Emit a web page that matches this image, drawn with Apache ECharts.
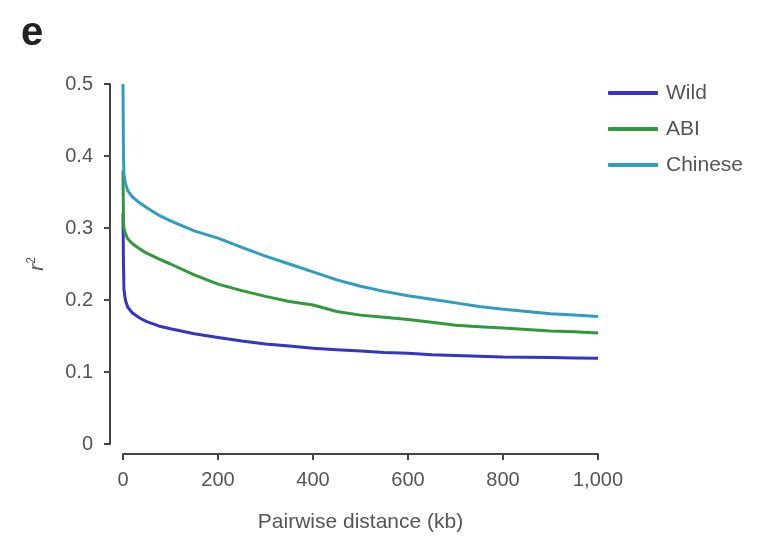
<!DOCTYPE html>
<html>
<head>
<meta charset="utf-8">
<script src="https://cdn.jsdelivr.net/npm/echarts@6/dist/echarts.min.js"></script>
<style>
  html, body { margin: 0; padding: 0; background: #fff; }
  #chart { width: 764px; height: 537px; }
</style>
</head>
<body>
<div id="chart"></div>
<script>
// Linkage disequilibrium decay: r^2 against pairwise distance (kb)
const distanceKb = [0, 1, 2, 5, 10, 20, 35, 50, 75, 100, 150, 200, 250, 300, 350, 400,
  450, 500, 550, 600, 650, 700, 750, 800, 850, 900, 950, 1000];

const wild = [0.32, 0.25, 0.215, 0.2, 0.19, 0.182, 0.175, 0.17, 0.164, 0.16, 0.153, 0.148,
  0.143, 0.139, 0.136, 0.133, 0.131, 0.129, 0.127, 0.126, 0.124, 0.123, 0.122, 0.121,
  0.1205, 0.12, 0.1195, 0.119];

const abi = [0.38, 0.31, 0.30, 0.292, 0.285, 0.278, 0.271, 0.265, 0.257, 0.25, 0.235, 0.222,
  0.213, 0.205, 0.198, 0.193, 0.184, 0.179, 0.176, 0.173, 0.169, 0.165, 0.163, 0.161,
  0.159, 0.157, 0.156, 0.154];

const chinese = [0.50, 0.40, 0.375, 0.362, 0.352, 0.343, 0.335, 0.328, 0.318, 0.31, 0.296,
  0.286, 0.273, 0.261, 0.25, 0.239, 0.228, 0.219, 0.212, 0.206, 0.201, 0.196, 0.191,
  0.187, 0.184, 0.181, 0.179, 0.177];

const seriesNames = ['Wild', 'ABI', 'Chinese'];
const seriesColors = ['#3434c8', '#2f9a3c', '#2e9dbf'];
const xTicks = [0, 200, 400, 600, 800, 1000];

const toPairs = vals => distanceKb.map((d, i) => [d, vals[i]]);
const textColor = '#555';
const axisColor = '#444';
const font = 'Liberation Sans, Arial, sans-serif';

const chart = echarts.init(document.getElementById('chart'), null, { renderer: 'canvas' });

chart.setOption({
  animation: false,
  backgroundColor: '#fff',
  textStyle: { fontFamily: font },
  graphic: [{
    type: 'text',
    left: 21,
    top: 14,
    style: { text: 'e', font: 'bold 40px ' + font, fill: '#222' }
  }],
  legend: {
    orient: 'vertical',
    left: 603,
    top: 76,
    itemWidth: 50,
    itemHeight: 4,
    itemGap: 12,
    icon: 'roundRect',
    data: seriesNames,
    textStyle: { fontSize: 21, color: textColor, lineHeight: 24, padding: [0, 0, 0, 3] }
  },
  grid: { left: 123, right: 166, top: 84, bottom: 93, outerBoundsMode: 'none' },
  xAxis: {
    type: 'value',
    min: 0,
    max: 1000,
    interval: 200,
    offset: 10,
    name: 'Pairwise distance (kb)',
    nameLocation: 'middle',
    nameGap: 58,
    nameTextStyle: { fontSize: 21, color: textColor },
    splitLine: { show: false },
    axisLine: { show: true, onZero: false, lineStyle: { color: axisColor, width: 2 } },
    axisTick: { show: true, length: 6, lineStyle: { color: axisColor, width: 2 } },
    axisLabel: {
      fontSize: 20,
      color: textColor,
      margin: 16,
      customValues: xTicks,
      formatter: v => v.toLocaleString('en-US')
    }
  },
  yAxis: {
    type: 'value',
    min: 0,
    max: 0.5,
    interval: 0.1,
    offset: 13,
    name: '{r|r}{s|2}',
    nameLocation: 'middle',
    nameRotate: 90,
    nameGap: 62,
    nameTextStyle: {
      rich: {
        r: { fontSize: 21, fontStyle: 'italic', color: textColor },
        s: { fontSize: 12, color: textColor, verticalAlign: 'top', padding: [0, 0, 10, 0] }
      }
    },
    splitLine: { show: false },
    axisLine: { show: true, onZero: false, lineStyle: { color: axisColor, width: 2 } },
    axisTick: { show: true, length: 6, lineStyle: { color: axisColor, width: 2 } },
    axisLabel: { fontSize: 20, color: textColor, margin: 17 }
  },
  series: [wild, abi, chinese].map((vals, i) => ({
    name: seriesNames[i],
    type: 'line',
    data: toPairs(vals),
    showSymbol: false,
    smooth: false,
    color: seriesColors[i],
    lineStyle: { width: 3, color: seriesColors[i] }
  }))
});
</script>
</body>
</html>
